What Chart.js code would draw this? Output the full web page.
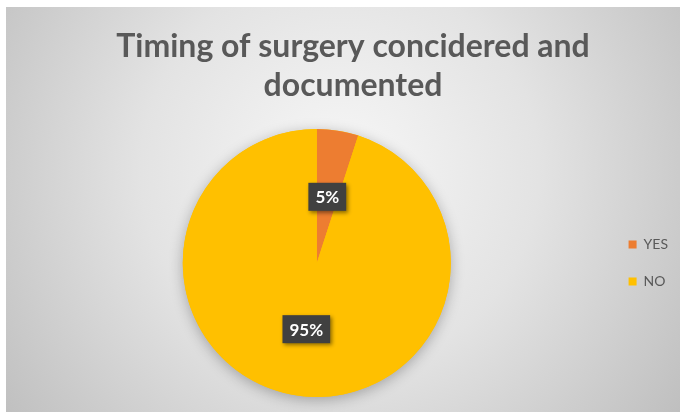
<!DOCTYPE html>
<html>
<head>
<meta charset="utf-8">
<script src="https://cdn.jsdelivr.net/npm/chart.js@4.4.1/dist/chart.umd.min.js"></script>
<style>
  html, body { margin: 0; padding: 0; background: #ffffff; }
  #wrap { width: 680px; height: 412px; position: relative; }
</style>
</head>
<body>
<div id="wrap"><canvas id="chart" width="680" height="412"></canvas></div>
<script>
// Answers and their shares (percent)
const categories = ['YES', 'NO'];
const shares = [5, 95];
const sliceColors = ['#ED7D31', '#FFC000'];
const titleLines = ['Timing of surgery concidered and', 'documented'];

// Gray panel behind the chart, lighter toward the middle top
const panelBackground = {
  id: 'panelBackground',
  beforeDraw(chart) {
    const ctx = chart.ctx;
    const x0 = 6, y0 = 7, w = chart.width - 6, h = chart.height - 7;
    ctx.save();
    const g = ctx.createRadialGradient(340, 170, 10, 340, 170, 430);
    g.addColorStop(0, '#f6f6f6');
    g.addColorStop(0.45, '#e3e3e3');
    g.addColorStop(1, '#bdbdbd');
    ctx.fillStyle = g;
    ctx.fillRect(x0, y0, w, h);
    ctx.restore();
  }
};

// Soft glow under the whole pie
const pieShadow = {
  id: 'pieShadow',
  beforeDatasetsDraw(chart) {
    const arc = chart.getDatasetMeta(0).data[0];
    if (!arc) return;
    const ctx = chart.ctx;
    ctx.save();
    ctx.shadowColor = 'rgba(0,0,0,0.28)';
    ctx.shadowBlur = 14;
    ctx.shadowOffsetY = 3;
    ctx.fillStyle = '#FFC000';
    ctx.beginPath();
    ctx.arc(arc.x, arc.y, arc.outerRadius, 0, Math.PI * 2);
    ctx.fill();
    ctx.restore();
  }
};

// Percent callouts in dark boxes at each slice's centre point
const sliceLabels = {
  id: 'sliceLabels',
  afterDatasetsDraw(chart) {
    const ctx = chart.ctx;
    const meta = chart.getDatasetMeta(0);
    ctx.save();
    ctx.font = 'bold 17px Lato, "Open Sans", sans-serif';
    ctx.textAlign = 'center';
    ctx.textBaseline = 'middle';
    meta.data.forEach((arc, i) => {
      const p = arc.tooltipPosition();
      const text = shares[i] + '%';
      const tw = ctx.measureText(text).width;
      const bw = tw + 14, bh = 28;
      ctx.save();
      ctx.shadowColor = 'rgba(0,0,0,0.45)';
      ctx.shadowBlur = 4;
      ctx.shadowOffsetX = 2;
      ctx.shadowOffsetY = 2;
      ctx.fillStyle = '#404040';
      ctx.fillRect(p.x - bw / 2, p.y - bh / 2, bw, bh);
      ctx.restore();
      ctx.fillStyle = '#ffffff';
      ctx.fillText(text, p.x, p.y + 1);
    });
    ctx.restore();
  }
};

new Chart(document.getElementById('chart'), {
  type: 'pie',
  data: {
    labels: categories,
    datasets: [{
      data: shares,
      backgroundColor: sliceColors,
      borderWidth: 0
    }]
  },
  options: {
    responsive: false,
    animation: false,
    layout: { padding: { left: 28, right: 2, top: 0, bottom: 15 } },
    plugins: {
      title: {
        display: true,
        text: titleLines,
        color: '#595959',
        font: { family: 'Lato, "Open Sans", sans-serif', size: 32, weight: 'bold', lineHeight: 1.22 },
        padding: { top: 27.5, bottom: 23.4 }
      },
      legend: {
        position: 'right',
        fullSize: false,
        labels: {
          color: '#595959',
          font: { family: 'Lato, "Open Sans", sans-serif', size: 14 },
          boxWidth: 8,
          boxHeight: 8,
          padding: 23
        }
      },
      tooltip: { enabled: false }
    }
  },
  plugins: [panelBackground, pieShadow, sliceLabels]
});
</script>
</body>
</html>
